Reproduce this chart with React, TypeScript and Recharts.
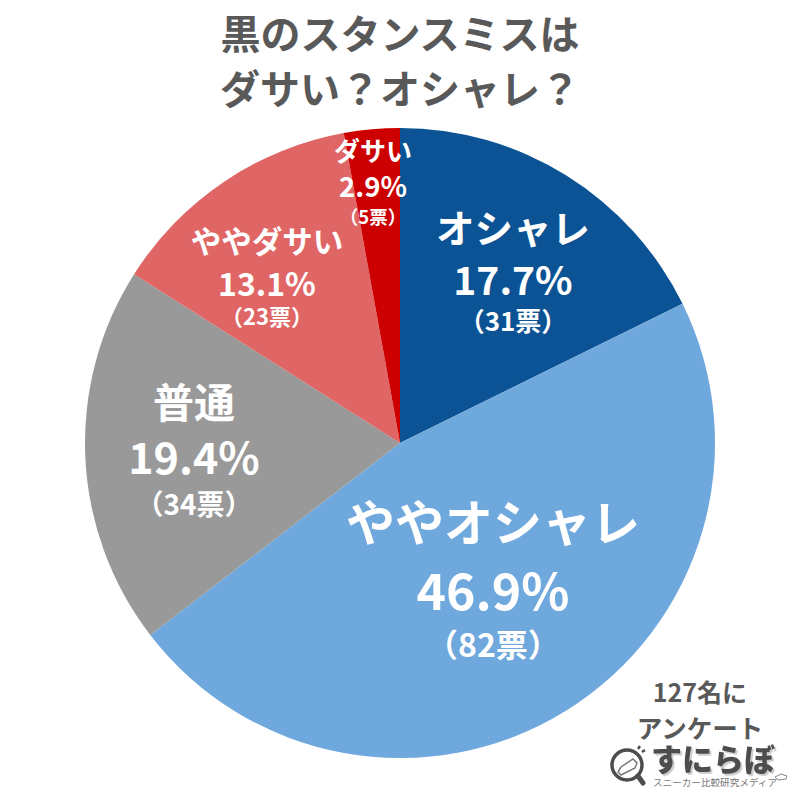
import { PieChart, Pie, Cell } from 'recharts';

const categories = ['オシャレ', 'ややオシャレ', '普通', 'ややダサい', 'ダサい'];
const votes = [31, 82, 34, 23, 5];
const percents = ['17.7%', '46.9%', '19.4%', '13.1%', '2.9%'];
const colors = ['#0b5394', '#6fa8dc', '#999999', '#e06666', '#cc0000'];

// hand placed label blocks, one per slice: x, then y + font size for each of the 3 rows
const labelSpots = [
  { x: 513, rows: [[226, 38.5], [278, 39], [319, 26]] },
  { x: 493, rows: [[519, 49], [588, 50], [643, 32]] },
  { x: 194, rows: [[400, 41], [455, 43], [503, 28]] },
  { x: 267, rows: [[240, 30.5], [282, 32], [315, 22]] },
  { x: 373, rows: [[149, 26], [185, 27.5], [216, 18.5]] },
];

const chartData = categories.map((name, i) => ({ name, value: votes[i] }));
const FONT = '"Noto Sans CJK JP", "Noto Sans", sans-serif';

function renderSliceLabel({ index }: { index: number }) {
  const spot = labelSpots[index];
  const texts = [categories[index], percents[index], `（${votes[index]}票）`];
  return (
    <g key={index} fontFamily={FONT} fontWeight={700} fill="#fff" textAnchor="middle" dominantBaseline="central">
      {texts.map((t, j) => (
        <text key={j} x={spot.x} y={spot.rows[j][0]} fontSize={spot.rows[j][1]} fill="#fff" stroke="none">
          {t}
        </text>
      ))}
    </g>
  );
}

function Logo() {
  return (
    <g fontFamily={FONT} textAnchor="middle" fill="#595959">
      <text x={700} y={691} dominantBaseline="central" fontSize={25} fontWeight={700}>127名に</text>
      <text x={700} y={726} dominantBaseline="central" fontSize={25.5} fontWeight={700}>アンケート</text>
      <text x={713} y={757} dominantBaseline="central" fontSize={31} fontWeight={900} fill="#4d4d4d" style={{ filter: 'drop-shadow(2px 2px 0 #cfcfcf)' }}>すにらぼ</text>
      <text x={715} y={782} dominantBaseline="central" fontSize={9.6} fontWeight={400} fill="#777">スニーカー比較研究メディア</text>
      <circle cx={627} cy={765} r={15} fill="#fff" stroke="#4d4d4d" strokeWidth={3.5} />
      <path d="M638 776 L643 783" stroke="#4d4d4d" strokeWidth={5} strokeLinecap="round" />
      <path d="M618 772 L621 767 L633 759 L637 763 L635 768 L621 775 Z" fill="#fff" stroke="#777" strokeWidth={1.5} />
      <path d="M638 749 L640 746 M642 752 L645 750" stroke="#4d4d4d" strokeWidth={2.5} />
      <path d="M775 777 L781 774 L787 776 L786 779 L778 780 Z" fill="#fff" stroke="#888" strokeWidth={1} />
    </g>
  );
}

export default function App() {
  return (
    <div style={{ position: 'absolute', left: 0, top: 0, width: 800, height: 800, background: '#fff' }}>
      <PieChart width={800} height={800} margin={{ top: 0, right: 0, bottom: 0, left: 0 }}>
        <Pie
          data={chartData}
          dataKey="value"
          cx={400}
          cy={443}
          outerRadius={315}
          startAngle={90}
          endAngle={-270}
          stroke="none"
          label={renderSliceLabel}
          labelLine={false}
          isAnimationActive={false}
        >
          {chartData.map((d, i) => (
            <Cell key={d.name} fill={colors[i]} />
          ))}
        </Pie>
      </PieChart>
      <svg width={800} height={800} style={{ position: 'absolute', left: 0, top: 0, pointerEvents: 'none' }}>
        <g fontFamily={FONT} fontWeight={700} fontSize={40} fill="#595959" textAnchor="middle" dominantBaseline="central">
          <text x={400} y={32}>黒のスタンスミスは</text>
          <text x={400} y={87}>ダサい？オシャレ？</text>
        </g>
        <Logo />
      </svg>
    </div>
  );
}
